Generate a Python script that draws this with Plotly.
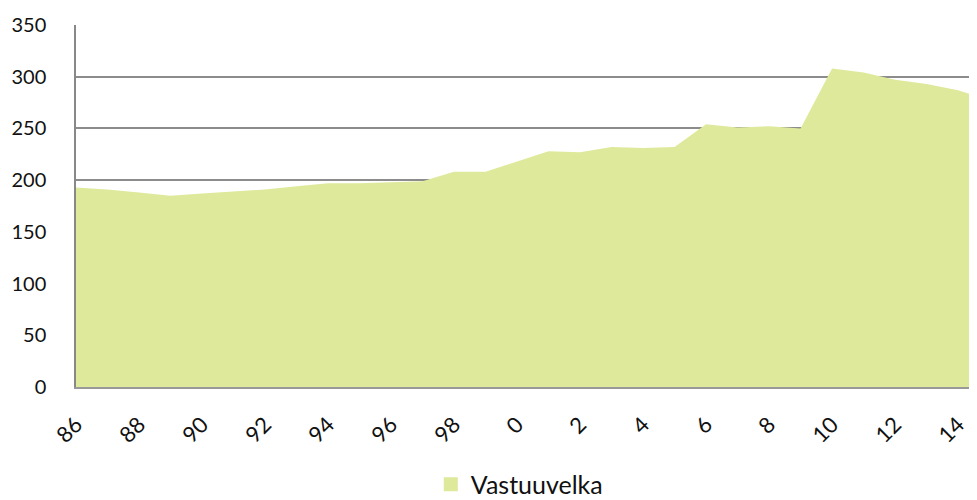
import plotly.graph_objects as go

years = list(range(1986, 2016))
values = [193, 191, 188, 185, 187, 189, 191, 194, 197, 197, 198, 199, 208, 208,
          218, 228, 227, 232, 231, 232, 254, 251, 252, 250, 308, 304, 297, 293, 287, 277]
tick_years = list(range(1986, 2015, 2))
tick_labels = [str(y % 100) for y in tick_years]
series_name = "Vastuuvelka"
fill_color = "#dfe99b"

fig = go.Figure()
fig.add_trace(go.Scatter(
    x=years, y=values, name=series_name, mode="lines",
    fill="tozeroy", fillcolor=fill_color, line=dict(color=fill_color, width=0),
    showlegend=False,
))
# legend proxy (square swatch like the original)
fig.add_trace(go.Scatter(
    x=[None], y=[None], name=series_name, mode="markers",
    marker=dict(symbol="square", size=14, color=fill_color), showlegend=True,
))

font_family = "Lato, Open Sans, sans-serif"
fig.update_layout(
    width=969, height=500,
    margin=dict(l=68, r=0, t=17, b=119),
    plot_bgcolor="white", paper_bgcolor="white",
    font=dict(family=font_family, size=22, color="#111"),
    showlegend=True,
    legend=dict(orientation="h", x=0.492, xanchor="center", y=-0.269, yanchor="middle",
                font=dict(size=25, color="#111"), itemwidth=30),
    xaxis=dict(range=[1986, 2014.6], tickmode="array", tickvals=tick_years, ticktext=tick_labels,
               tickangle=-45, showgrid=False, showline=True, linecolor="#999", linewidth=2,
               ticks="", ticklabelstandoff=14, zeroline=False, automargin=False),
    yaxis=dict(range=[0, 350], tickvals=[0, 50, 100, 150, 200, 250, 300, 350],
               tickfont=dict(size=20),
               showgrid=True, gridcolor="#8c8c8c", gridwidth=1.5,
               showline=True, linecolor="#888", linewidth=1.5, ticks="",
               ticklabelstandoff=24, zeroline=False, automargin=False),
)

fig.write_html("out.html")
